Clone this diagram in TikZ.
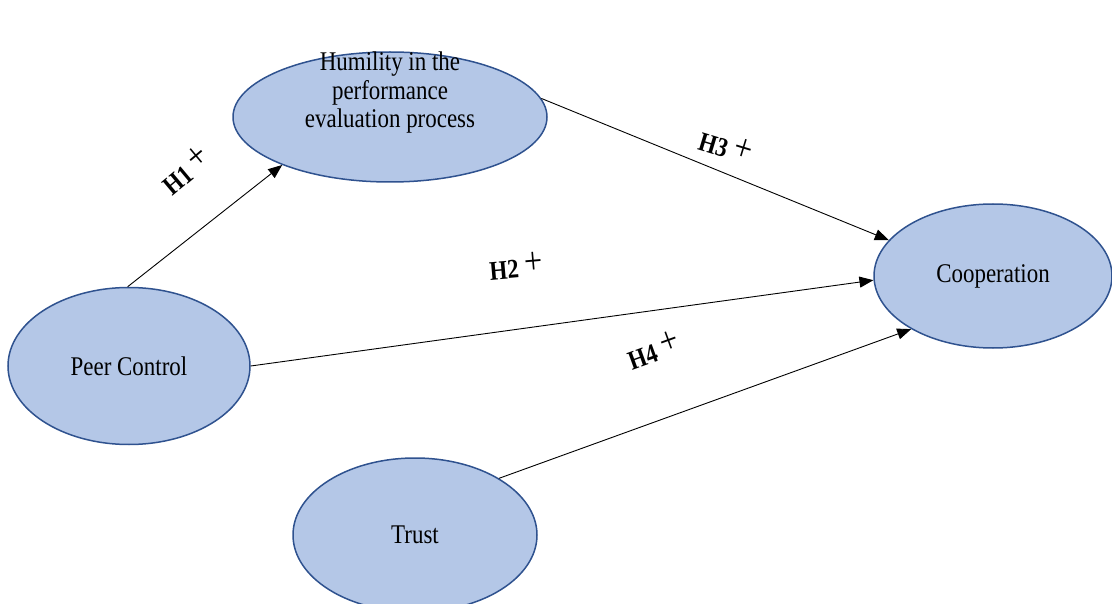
\documentclass[tikz,border=0pt]{standalone}
\usepackage{fontspec}
\setmainfont{Liberation Serif}[FakeStretch=0.85]
\usetikzlibrary{shapes.geometric,arrows.meta}
\definecolor{ellfill}{HTML}{B4C7E7}
\definecolor{elldraw}{HTML}{2F528F}
\tikzset{
  ell/.style={ellipse, fill=ellfill, draw=elldraw, line width=1.5pt, inner sep=0pt, align=center,
    font=\fontsize{27}{28.5}\selectfont},
  conn/.style={line width=0.9pt, -{Triangle[length=14pt,width=11pt]}},
  hyp/.style={font=\fontsize{27}{28}\selectfont, inner sep=0pt}
}
\newcommand{\hyplab}[1]{\textbf{#1}\hspace{6pt}\raisebox{3pt}{\fontsize{38}{38}\selectfont\mdseries +}}
\begin{document}
\begin{tikzpicture}[x=1pt,y=-1pt]
\useasboundingbox (0,0) rectangle (1112,604);
\begin{scope}
\clip (0,0) rectangle (1112,604);
\node[ell, minimum width=314pt, minimum height=130pt] (hum) at (390,117) {};
\node[ell, draw=none, fill=none] (humtxt) at (390,93) {Humility in the\\performance\\evaluation process};
\node[ell, minimum width=242pt, minimum height=157pt] (pc) at (129,366) {Peer Control};
\node[ell, minimum width=238pt, minimum height=144pt] (coop) at (993,276) {Cooperation};
\node[ell, minimum width=244pt, minimum height=154pt] (trust) at (415,535) {Trust};
\end{scope}
\draw[conn] (pc.91) -- (hum.204);
\draw[conn] (hum.7) -- (coop.161);
\draw[conn] (pc.0) -- (coop.182);
\draw[conn] (trust.34) -- (coop.213);
\node[hyp, rotate=40] (h1) at (185,170) {\hyplab{H1}};
\node[hyp, rotate=-17] (h3) at (726,146) {\hyplab{H3}};
\node[hyp, rotate=5] (h2) at (516,266) {\hyplab{H2}};
\node[hyp, rotate=20] (h4) at (653,350) {\hyplab{H4}};
\end{tikzpicture}
\end{document}
